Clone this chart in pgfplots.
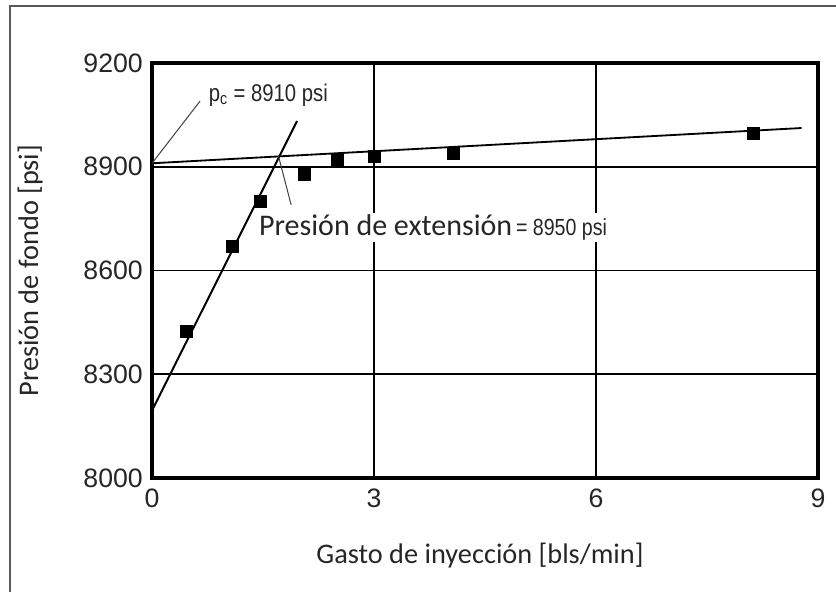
\documentclass[border=0pt]{standalone}
\usepackage{pgfplots}
\pgfplotsset{compat=1.18}
\usepackage{fontspec}
\setmainfont{Carlito}
\newfontfamily\arial{Liberation Sans}
\newfontfamily\arialn[FakeStretch=0.84]{Liberation Sans}
\begin{document}
\begin{tikzpicture}
\path[use as bounding box] (0pt,0pt) rectangle (501.6pt,-355.2pt);
\draw[black!65, line width=1.2pt] (6pt,-356pt) -- (6pt,-3.6pt) -- (502pt,-3.6pt);
\begin{axis}[
  at={(91.2pt,-286.8pt)}, anchor=south west,
  scale only axis, width=399.6pt, height=249pt,
  xmin=0, xmax=9, ymin=8000, ymax=9200,
  xtick={0,3,6,9}, ytick={8000,8300,8600,8900,9200},
  grid=major, major grid style={black, line width=0.95pt},
  major tick length=0pt,
  axis line style={black, line width=2pt},
  /pgf/number format/assume math mode=true,
  /pgf/number format/set thousands separator={},
  ticklabel style={font=\arial\fontsize{16}{16}\selectfont, text=black!85},
  yticklabel style={xshift=-2pt},
  xticklabel style={yshift=-3pt},
  xlabel={Gasto de inyección [bls/min]},
  ylabel={Presión de fondo [psi]},
  label style={font=\fontsize{17}{17}\selectfont, text=black!85},
  xlabel style={at={(axis description cs:0.4925,-0.205)}, anchor=base},
  ylabel style={at={(axis description cs:-0.183,0.5)}, anchor=center},
  clip=false,
]
\addplot[black, line width=1.2pt] coordinates {(0,8195) (1.96,9032)};
\addplot[black, line width=1.1pt] coordinates {(0,8910) (8.78,9012)};
\addplot[only marks, mark=square*, mark size=3.6pt, black] coordinates {
  (0.46,8423) (1.08,8669) (1.47,8800) (2.06,8879) (2.51,8918)
  (3.01,8930) (4.07,8939) (8.12,8996)};
\draw[black!75, line width=0.6pt] (axis cs:0,8910) -- (axis cs:0.65,9090);
\draw[black!75, line width=0.6pt] (axis cs:1.71,8930) -- (axis cs:1.88,8790);
\node[anchor=west, inner sep=1pt, font=\arialn\fontsize{14.5}{14.5}\selectfont, text=black!85]
  at (axis cs:0.74,9108) {p\textsubscript{c} = 8910 psi};
\node[anchor=west, fill=white, inner sep=1pt, font=\fontsize{18}{18}\selectfont, text=black!85]
  at (axis cs:1.42,8725) {Presión de extensión{\arialn\fontsize{14}{14}\selectfont\,= 8950 psi}};
\end{axis}
\end{tikzpicture}
\end{document}
